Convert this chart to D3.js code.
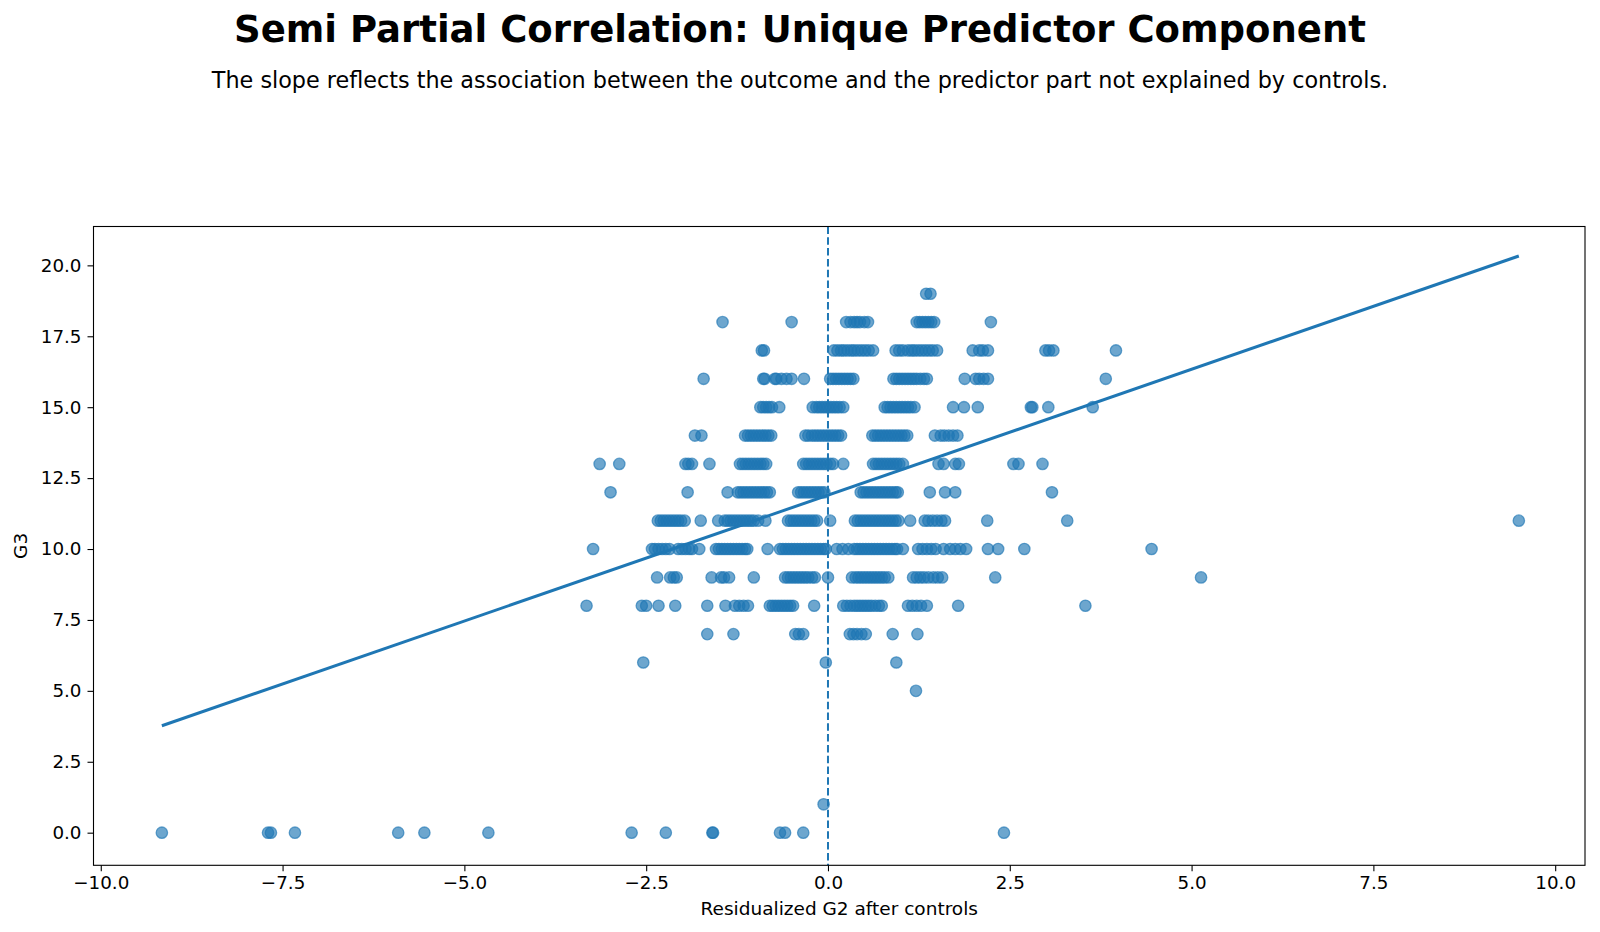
<!DOCTYPE html>
<html>
<head>
<meta charset="utf-8">
<script src="https://cdn.jsdelivr.net/npm/d3@7"></script>
<style>
  html, body { margin: 0; padding: 0; background: #fff; }
  svg { display: block; font-family: "DejaVu Sans", sans-serif; }
</style>
</head>
<body>
<svg id="chart" width="1600" height="932"></svg>
<script>
// ---- Data ----
const titleText = "Semi Partial Correlation: Unique Predictor Component";
const subtitleText = "The slope reflects the association between the outcome and the predictor part not explained by controls.";
const xLabel = "Residualized G2 after controls";
const yLabel = "G3";

const xTicks = [-10, -7.5, -5, -2.5, 0, 2.5, 5, 7.5, 10];
const yTicks = [0, 2.5, 5, 7.5, 10, 12.5, 15, 17.5, 20];

// residualized G2 values, grouped by G3 value
const g3_19 = [1.35, 1.41];
const g3_18 = [-1.45, -0.50, 0.25, 0.31, 0.36, 0.40, 0.44, 0.50, 0.55, 1.22, 1.26, 1.30, 1.34, 1.38, 1.42, 1.46, 2.24];
const g3_17 = [-0.91, -0.88, 0.08, 0.13, 0.18, 0.22, 0.27, 0.32, 0.36, 0.41, 0.46, 0.51, 0.56, 0.62, 0.93, 0.98, 1.03, 1.10, 1.15, 1.19, 1.24, 1.29, 1.34, 1.39, 1.44, 1.50, 1.99, 2.08, 2.13, 2.20, 2.99, 3.04, 3.10, 3.96];
const g3_16 = [-1.71, -0.89, -0.87, -0.73, -0.71, -0.64, -0.57, -0.50, -0.33, 0.03, 0.07, 0.11, 0.15, 0.19, 0.23, 0.27, 0.31, 0.35, 0.90, 0.94, 0.98, 1.02, 1.06, 1.10, 1.14, 1.18, 1.22, 1.27, 1.32, 1.36, 1.88, 2.03, 2.08, 2.14, 2.20, 3.82];
const g3_15 = [-0.93, -0.89, -0.85, -0.81, -0.77, -0.67, -0.21, -0.16, -0.12, -0.08, -0.04, 0.00, 0.04, 0.08, 0.12, 0.16, 0.21, 0.78, 0.82, 0.86, 0.90, 0.94, 0.98, 1.02, 1.06, 1.10, 1.14, 1.19, 1.72, 1.87, 2.06, 2.79, 2.81, 3.03, 3.64];
const g3_14 = [-1.83, -1.74, -1.14, -1.10, -1.06, -1.02, -0.98, -0.94, -0.90, -0.86, -0.82, -0.78, -0.31, -0.27, -0.22, -0.18, -0.14, -0.10, -0.06, -0.02, 0.02, 0.06, 0.10, 0.14, 0.18, 0.61, 0.65, 0.69, 0.73, 0.77, 0.81, 0.85, 0.89, 0.93, 0.97, 1.01, 1.05, 1.09, 1.47, 1.55, 1.60, 1.66, 1.72, 1.78];
const g3_13 = [-3.14, -2.87, -1.96, -1.92, -1.87, -1.63, -1.21, -1.17, -1.13, -1.09, -1.05, -1.01, -0.97, -0.93, -0.89, -0.85, -0.34, -0.30, -0.26, -0.22, -0.18, -0.14, -0.10, -0.06, -0.02, 0.03, 0.07, 0.21, 0.62, 0.66, 0.70, 0.74, 0.78, 0.82, 0.86, 0.90, 0.94, 0.98, 1.03, 1.52, 1.59, 1.75, 1.80, 2.55, 2.62, 2.95];
const g3_12 = [-2.99, -1.93, -1.38, -1.24, -1.20, -1.16, -1.12, -1.08, -1.04, -1.00, -0.96, -0.92, -0.88, -0.84, -0.80, -0.41, -0.37, -0.33, -0.29, -0.25, -0.21, -0.17, -0.13, -0.09, -0.05, 0.45, 0.49, 0.53, 0.57, 0.61, 0.65, 0.69, 0.73, 0.77, 0.81, 0.85, 0.89, 0.93, 0.96, 1.40, 1.61, 1.75, 3.08];
const g3_11 = [-2.34, -2.30, -2.26, -2.22, -2.18, -2.14, -2.10, -2.06, -2.02, -1.97, -1.75, -1.51, -1.42, -1.38, -1.34, -1.30, -1.26, -1.22, -1.18, -1.14, -1.10, -1.06, -1.02, -0.96, -0.86, -0.55, -0.51, -0.47, -0.43, -0.39, -0.35, -0.31, -0.27, -0.23, -0.19, -0.15, 0.03, 0.37, 0.41, 0.45, 0.49, 0.53, 0.57, 0.61, 0.65, 0.69, 0.73, 0.77, 0.81, 0.85, 0.89, 0.93, 0.97, 1.13, 1.33, 1.38, 1.44, 1.50, 1.56, 1.61, 2.19, 3.29, 9.50];
const g3_10 = [-3.23, -2.42, -2.38, -2.33, -2.28, -2.23, -2.18, -2.06, -2.01, -1.96, -1.91, -1.87, -1.77, -1.54, -1.50, -1.46, -1.42, -1.38, -1.34, -1.30, -1.26, -1.22, -1.18, -1.14, -1.11, -0.83, -0.66, -0.62, -0.58, -0.54, -0.50, -0.46, -0.42, -0.38, -0.34, -0.30, -0.26, -0.22, -0.18, -0.14, -0.10, -0.06, -0.03, 0.12, 0.20, 0.28, 0.36, 0.40, 0.44, 0.48, 0.52, 0.56, 0.60, 0.64, 0.68, 0.72, 0.76, 0.80, 0.84, 0.88, 0.92, 0.95, 1.03, 1.24, 1.30, 1.36, 1.42, 1.48, 1.59, 1.68, 1.75, 1.82, 1.90, 2.20, 2.34, 2.70, 4.45];
const g3_9 = [-2.35, -2.17, -2.12, -2.08, -1.60, -1.47, -1.43, -1.36, -1.02, -0.59, -0.55, -0.51, -0.47, -0.43, -0.39, -0.35, -0.31, -0.27, -0.22, -0.18, 0.00, 0.33, 0.38, 0.42, 0.46, 0.50, 0.54, 0.58, 0.62, 0.66, 0.70, 0.74, 0.78, 0.83, 1.17, 1.22, 1.27, 1.32, 1.38, 1.45, 1.51, 1.57, 2.30, 5.13];
const g3_8 = [-3.32, -2.56, -2.50, -2.33, -2.10, -1.66, -1.41, -1.28, -1.22, -1.16, -1.10, -0.80, -0.76, -0.72, -0.68, -0.64, -0.60, -0.56, -0.52, -0.48, -0.19, 0.21, 0.26, 0.31, 0.36, 0.40, 0.44, 0.48, 0.52, 0.56, 0.60, 0.65, 0.70, 0.74, 1.10, 1.16, 1.22, 1.28, 1.36, 1.79, 3.54];
const g3_7 = [-1.66, -1.30, -0.45, -0.40, -0.34, 0.30, 0.35, 0.40, 0.46, 0.52, 0.89, 1.23];
const g3_6 = [-2.54, -0.03, 0.94];
const g3_5 = [1.21];
const g3_1 = [-0.06];
const g3_0 = [-9.16, -7.70, -7.66, -7.33, -5.91, -5.55, -4.67, -2.70, -2.23, -1.59, -1.58, -0.66, -0.59, -0.34, 2.42];

// fitted regression line end points
const fitLine = [{x: -9.16, y: 3.77}, {x: 9.50, y: 20.33}];

// ---- Build point table ----
const groups = [
  [19, g3_19], [18, g3_18], [17, g3_17], [16, g3_16], [15, g3_15], [14, g3_14],
  [13, g3_13], [12, g3_12], [11, g3_11], [10, g3_10], [9, g3_9], [8, g3_8],
  [7, g3_7], [6, g3_6], [5, g3_5], [1, g3_1], [0, g3_0]
];
const points = [];
groups.forEach(([g3, xs]) => xs.forEach(v => points.push({x: v, y: g3})));

// ---- Layout ----
const svg = d3.select("#chart");
const L = 93.5, R = 1585, T = 226.5, B = 865.3;
const blue = "#1f77b4";

const x = d3.scaleLinear().domain([-10.1, 10.41]).range([L, R]);
const y = d3.scaleLinear().domain([-1.15, 21.37]).range([B, T]);

// title + subtitle
svg.append("text").attr("x", 800).attr("y", 42)
  .attr("text-anchor", "middle").attr("font-weight", "bold")
  .attr("font-size", 37).attr("fill", "#000").text(titleText);
svg.append("text").attr("x", 800).attr("y", 88)
  .attr("text-anchor", "middle").attr("font-size", 22.3)
  .attr("fill", "#000").text(subtitleText);

// points
const clipId = "plotclip";
svg.append("clipPath").attr("id", clipId).append("rect")
  .attr("x", L).attr("y", T).attr("width", R - L).attr("height", B - T);

const plot = svg.append("g").attr("clip-path", `url(#${clipId})`);
plot.selectAll("circle").data(points).enter().append("circle")
  .attr("cx", d => x(d.x)).attr("cy", d => y(d.y)).attr("r", 5.7)
  .attr("fill", blue).attr("fill-opacity", 0.65)
  .attr("stroke", blue).attr("stroke-opacity", 0.65).attr("stroke-width", 1.3);

// vertical dashed line at zero
plot.append("line")
  .attr("x1", x(0)).attr("x2", x(0)).attr("y1", T).attr("y2", B)
  .attr("stroke", blue).attr("stroke-width", 2).attr("stroke-dasharray", "7.5,3.3");

// regression line
plot.append("path").datum(fitLine)
  .attr("d", d3.line().x(d => x(d.x)).y(d => y(d.y)))
  .attr("fill", "none").attr("stroke", blue).attr("stroke-width", 3);

// axes
const fmt = d3.format(".1f");
const xAxis = svg.append("g").attr("transform", `translate(0,${B})`)
  .call(d3.axisBottom(x).tickValues(xTicks).tickFormat(fmt).tickSize(6).tickPadding(5));
const yAxis = svg.append("g").attr("transform", `translate(${L},0)`)
  .call(d3.axisLeft(y).tickValues(yTicks).tickFormat(fmt).tickSize(6).tickPadding(6));
[xAxis, yAxis].forEach(a => {
  a.select(".domain").remove();
  a.selectAll("text").attr("font-size", 18.3).attr("fill", "#000").attr("font-family", "DejaVu Sans");
  a.selectAll("line").attr("stroke", "#000").attr("stroke-width", 1.1);
});

// frame
svg.append("rect").attr("x", L).attr("y", T).attr("width", R - L).attr("height", B - T)
  .attr("fill", "none").attr("stroke", "#000").attr("stroke-width", 1.1);

// axis labels
svg.append("text").attr("x", (L + R) / 2).attr("y", 915)
  .attr("text-anchor", "middle").attr("font-size", 18.5).attr("fill", "#000").text(xLabel);
svg.append("text").attr("transform", `translate(27,${(T + B) / 2}) rotate(-90)`)
  .attr("text-anchor", "middle").attr("font-size", 18.5).attr("fill", "#000").text(yLabel);
</script>
</body>
</html>
